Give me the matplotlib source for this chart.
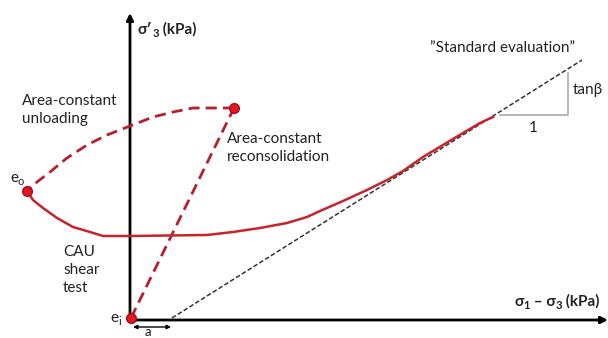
import matplotlib
matplotlib.use("Agg")
import matplotlib.pyplot as plt

plt.rcParams['font.family'] = ['Lato', 'DejaVu Sans']

# Stress-path sketch: coordinates relative to the axis origin
e_i = (1, 2)
top_point = (104, 212)
e_o = (-103, 129)

unload_x = [104, 77, 63, 43, 23, 0, -23, -43, -63, -80, -93, -103]
unload_y = [212, 212, 212, 208, 203, 194, 185, 175, 162, 148, 138, 129]

cau_x = [-103, -97, -87, -73, -57, -40, -27, 0, 77, 103, 130, 157, 177, 190, 213,
         237, 257, 273, 293, 313, 333, 350, 363]
cau_y = [129, 120, 112, 102, 93, 88, 84, 84, 85, 88, 92, 97, 103, 109, 119,
         130, 140, 149, 163, 175, 187, 197, 203]

std_x = [42, 452]
std_y = [2, 260]

tri_x = [370, 438, 438]
tri_y = [205, 205, 247]

red_dash = '#B5202E'
red_line = '#C8232C'
txt_col = '#222222'
fs = 11

fig = plt.figure(figsize=(6.08, 3.38), dpi=100)
ax = fig.add_axes([0, 0, 1, 1])
ax.set_xlim(-130, 478)
ax.set_ylim(-18, 320)
ax.axis('off')
renderer = fig.canvas.get_renderer()


def rich_text(x, y, pieces, ha='left'):
    """Draw a label made of pieces (text, size, dy, weight) placed side by side."""
    objs = []
    widths = []
    for s, size, dy, weight in pieces:
        t = ax.text(0, 0, s, fontsize=size, fontweight=weight, color=txt_col,
                    va='baseline', ha='left')
        bb = t.get_window_extent(renderer)
        objs.append((t, dy))
        widths.append(bb.width)
    total = sum(widths)
    cx = x - total if ha == 'right' else x
    for (t, dy), w in zip(objs, widths):
        t.set_position((cx, y + dy))
        cx += w


# axes with arrows
ax.annotate('', xy=(0, 307), xytext=(0, -1),
            arrowprops=dict(arrowstyle='-|>', color='black', lw=2, mutation_scale=10,
                            shrinkA=0, shrinkB=0))
ax.annotate('', xy=(478, 0), xytext=(-1, 0),
            arrowprops=dict(arrowstyle='-|>', color='black', lw=2, mutation_scale=10,
                            shrinkA=0, shrinkB=0))

# standard evaluation line and slope triangle
ax.plot(std_x, std_y, color='#333333', lw=1.1, ls=(0, (3, 1.5)), zorder=3)
ax.plot(tri_x, tri_y, color='#AAAAAA', lw=1.2, zorder=2)

# reconsolidation and unloading paths
ax.plot([e_i[0], top_point[0]], [e_i[1], top_point[1]], color=red_dash, lw=2,
        ls=(0, (4, 2.2)), zorder=4)
ax.plot(unload_x, unload_y, color=red_dash, lw=2, ls=(0, (4, 2.2)), zorder=4,
        dash_joinstyle='round')

# CAU shear path
ax.plot(cau_x, cau_y, color=red_line, lw=1.8, zorder=5, solid_joinstyle='round')

# state points
for p in (e_i, top_point, e_o):
    ax.plot(p[0], p[1], 'o', color='#E8141E', mec='#A01020', mew=1, ms=7, zorder=6)

# offset a
ax.annotate('', xy=(41, -7), xytext=(3, -7),
            arrowprops=dict(arrowstyle='<|-|>', color='black', lw=1, mutation_scale=6,
                            shrinkA=0, shrinkB=0))
ax.text(18, -17.5, 'a', fontsize=9.5, ha='center', va='bottom', color=txt_col)

# axis titles
rich_text(8, 286, [('σ\u2032', fs, 0, 'bold'), ('3', 8, -3, 'bold'), (' (kPa)', fs, 0, 'bold')])
rich_text(470, 14, [('σ', fs, 0, 'bold'), ('1', 8, -3, 'bold'), (' \u2013 σ', fs, 0, 'bold'),
                    ('3', 8, -3, 'bold'), (' (kPa)', fs, 0, 'bold')], ha='right')

ax.text(-108, 210, 'Area-constant\nunloading', fontsize=fs, va='center', ha='left',
        linespacing=1.45, color=txt_col)
ax.text(97, 172, 'Area-constant\nreconsolidation', fontsize=fs, va='center', ha='left',
        linespacing=1.45, color=txt_col)
ax.text(-67, 50, 'CAU\nshear\ntest', fontsize=fs, va='center', ha='left',
        linespacing=1.4, color=txt_col)
ax.text(373, 272, '\u201dStandard evaluation\u201d', fontsize=fs, va='center', ha='center',
        color=txt_col)
ax.text(443, 230, 'tanβ', fontsize=fs, va='center', ha='left', color=txt_col)
ax.text(403, 192, '1', fontsize=fs, va='center', ha='center', color=txt_col)

# point labels
rich_text(-120, 138, [('e', fs, 0, 'normal'), ('o', 8, -3, 'normal')])
rich_text(-20, -2, [('e', fs, 0, 'normal'), ('i', 8, -3, 'normal')])

fig.savefig('out.png', dpi=100)
